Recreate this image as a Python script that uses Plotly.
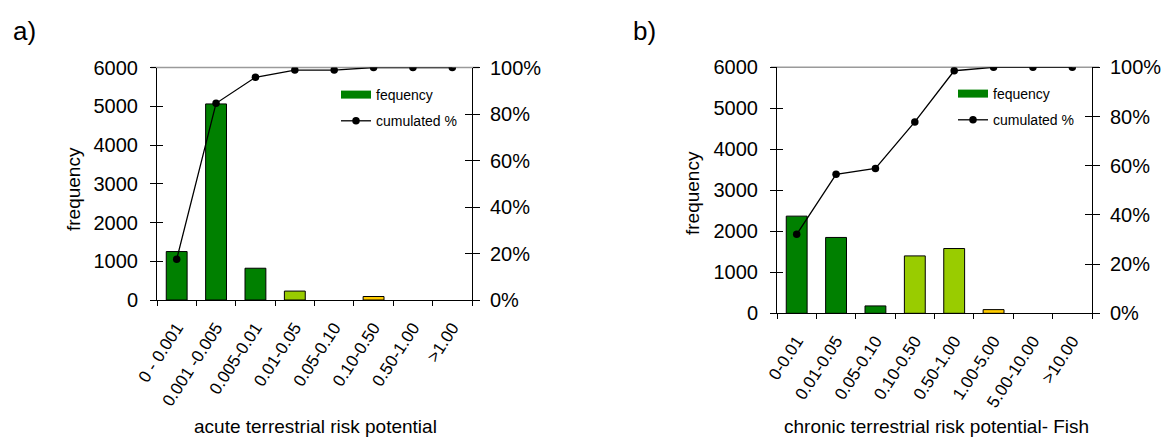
import plotly.graph_objects as go

# ---------------- data ----------------
cat_a = ["0 - 0.001", "0.001 -0.005", "0.005-0.01", "0.01-0.05",
         "0.05-0.10", "0.10-0.50", "0.50-1.00", ">1.00"]
freq_a = [1250, 5060, 820, 230, 0, 90, 0, 0]
cum_a = [17.5, 84.6, 95.8, 98.9, 98.9, 100, 100, 100]

cat_b = ["0-0.01", "0.01-0.05", "0.05-0.10", "0.10-0.50",
         "0.50-1.00", "1.00-5.00", "5.00-10.00", ">10.00"]
freq_b = [2370, 1850, 180, 1400, 1580, 90, 0, 0]
cum_b = [32.1, 56.5, 58.9, 77.8, 98.6, 100, 100, 100]

freq_ticks = [0, 1000, 2000, 3000, 4000, 5000, 6000]
pct_ticks = [0, 20, 40, 60, 80, 100]
pct_labels = ["0%", "20%", "40%", "60%", "80%", "100%"]

# ---------------- style ----------------
DG, LG, GOLD, ORG, RED = "#008000", "#99CC00", "#FFCC00", "#FF9900", "#FF0000"
colors_a = [DG, DG, DG, LG, LG, GOLD, ORG, RED]
colors_b = [DG, DG, DG, LG, LG, GOLD, ORG, RED]
FONT = "Arial, 'Liberation Sans', sans-serif"
W, H = 1162, 437


def px_x(v):
    return v / W


def px_y(v):
    return 1 - v / H


fig = go.Figure()

panels = [
    # cats, freq, cum, colors, x, yL, yR, yLi, yRi, legend, xpix, ypix, title, title pos
    (cat_a, freq_a, cum_a, colors_a, "x", "y", "y2", "y3", "y4", "legend",
     (157, 472), (67.5, 300), "acute terrestrial risk potential", (315, 426), (73, 189)),
    (cat_b, freq_b, cum_b, colors_b, "x2", "y5", "y6", "y7", "y8", "legend2",
     (777, 1092), (67.3, 313.3), "chronic terrestrial risk potential- Fish", (936, 426), (692, 193)),
]

layout = dict(
    width=W, height=H, margin=dict(l=0, r=0, t=0, b=0, autoexpand=False),
    paper_bgcolor="white", plot_bgcolor="white",
    font=dict(family=FONT, color="black", size=20),
    bargap=0.47, showlegend=True,
)

shapes = []
annotations = []
for (cats, freq, cum, cols, xa, yl, yr, yli, yri, leg, xp, yp, xtitle, xtp, ytp) in panels:
    fig.add_trace(go.Bar(
        x=cats, y=freq,
        marker=dict(color=cols, line=dict(color="black",
                                          width=[1 if v > 0 else 0 for v in freq])),
        xaxis=xa, yaxis=yl, name="fequency", showlegend=False))
    # legend proxy for bar series (wide rectangle look)
    fig.add_trace(go.Scatter(
        x=[None], y=[None], mode="lines", line=dict(color=DG, width=8),
        xaxis=xa, yaxis=yl, name="fequency", legend=leg, legendgroup=leg + "a"))
    fig.add_trace(go.Scatter(
        x=cats, y=cum, mode="lines+markers",
        line=dict(color="black", width=1.3),
        marker=dict(color="black", size=7.5),
        xaxis=xa, yaxis=yr, name="cumulated %", legend=leg, legendgroup=leg + "b"))
    # helper traces so the inside-tick axes exist (crossing ticks)
    fig.add_trace(go.Scatter(x=[], y=[], xaxis=xa, yaxis=yli, showlegend=False))
    fig.add_trace(go.Scatter(x=[], y=[], xaxis=xa, yaxis=yri, showlegend=False))

    xdom = [px_x(xp[0]), px_x(xp[1])]
    ydom = [px_y(yp[1]), px_y(yp[0])]
    xname = "xaxis" if xa == "x" else "xaxis" + xa[1:]
    yln = "yaxis" if yl == "y" else "yaxis" + yl[1:]
    layout[xname] = dict(
        domain=xdom, anchor=yl, type="category", categoryorder="array",
        categoryarray=cats, range=[-0.5, 7.5], automargin=False,
        showline=True, linecolor="black", linewidth=1,
        ticks="outside", ticklen=5, tickcolor="black", tickson="boundaries",
        tickangle=-57, tickfont=dict(size=17), showgrid=False,
        ticklabelstandoff=10,
    )
    layout[yln] = dict(
        domain=ydom, anchor=xa, range=[0, 6000], tickvals=freq_ticks,
        showline=True, linecolor="black", linewidth=1, automargin=False,
        ticks="outside", ticklen=6, tickcolor="black", showgrid=False,
        zeroline=False, tickfont=dict(size=20), ticklabelstandoff=8,
    )
    layout["yaxis" + yr[1:]] = dict(
        domain=ydom, anchor=xa, overlaying=yl, side="right", range=[0, 100],
        tickvals=pct_ticks, ticktext=pct_labels, automargin=False,
        showline=True, linecolor="black", linewidth=1,
        ticks="outside", ticklen=7, tickcolor="black", showgrid=False,
        zeroline=False, tickfont=dict(size=20), ticklabelstandoff=6,
    )
    layout["yaxis" + yli[1:]] = dict(
        domain=ydom, anchor=xa, overlaying=yl, side="left", range=[0, 6000],
        tickvals=freq_ticks, ticks="inside", ticklen=6, tickcolor="black",
        showticklabels=False, showline=False, showgrid=False, zeroline=False,
        automargin=False,
    )
    layout["yaxis" + yri[1:]] = dict(
        domain=ydom, anchor=xa, overlaying=yl, side="right", range=[0, 100],
        tickvals=pct_ticks, ticks="inside", ticklen=7, tickcolor="black",
        showticklabels=False, showline=False, showgrid=False, zeroline=False,
        automargin=False,
    )
    # gray top border line
    shapes.append(dict(type="line", xref=xa + " domain", yref=yl + " domain",
                       x0=-6 / 315, x1=1 + 7 / 315, y0=1, y1=1,
                       line=dict(color="#9a9a9a", width=1.5), layer="below"))
    annotations.append(dict(text=xtitle, xref="paper", yref="paper",
                            x=px_x(xtp[0]), y=px_y(xtp[1]), xanchor="center",
                            yanchor="middle", showarrow=False, font=dict(size=19)))
    annotations.append(dict(text="frequency", xref="paper", yref="paper",
                            x=px_x(ytp[0]), y=px_y(ytp[1]), xanchor="center",
                            yanchor="middle", textangle=-90, showarrow=False,
                            font=dict(size=19)))

layout["legend"] = dict(x=px_x(336), y=px_y(79), xanchor="left", yanchor="top",
                        font=dict(size=14), bgcolor="rgba(0,0,0,0)",
                        traceorder="grouped", tracegroupgap=5, itemwidth=30)
layout["legend2"] = dict(x=px_x(953), y=px_y(78), xanchor="left", yanchor="top",
                         font=dict(size=14), bgcolor="rgba(0,0,0,0)",
                         traceorder="grouped", tracegroupgap=5, itemwidth=30)
layout["shapes"] = shapes
annotations += [
    dict(text="a)", xref="paper", yref="paper", x=px_x(11), y=px_y(31),
         xanchor="left", yanchor="middle", showarrow=False, font=dict(size=26)),
    dict(text="b)", xref="paper", yref="paper", x=px_x(631), y=px_y(31),
         xanchor="left", yanchor="middle", showarrow=False, font=dict(size=26)),
]
layout["annotations"] = annotations

fig.update_layout(**layout)
fig.write_html("out.html")
